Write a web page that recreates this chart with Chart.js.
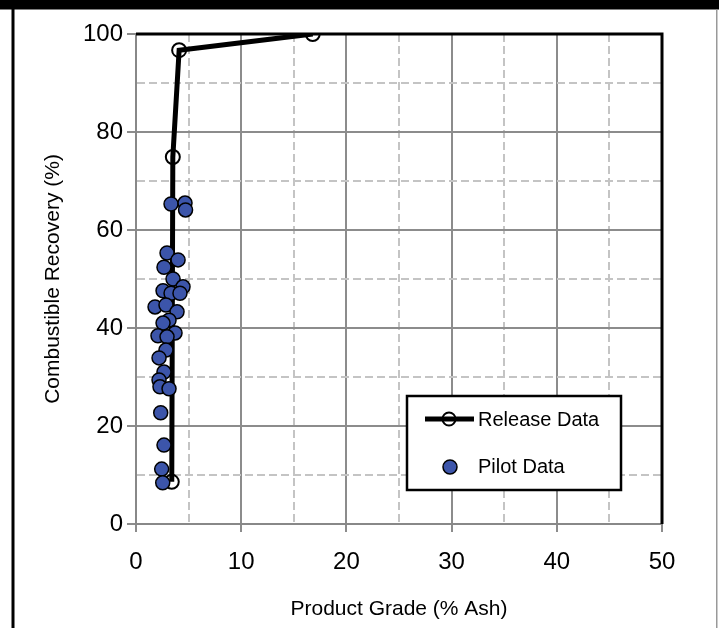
<!DOCTYPE html>
<html>
<head>
<meta charset="utf-8">
<script src="https://cdn.jsdelivr.net/npm/chart.js@4"></script>
<style>
  html, body { margin: 0; padding: 0; background: #fff; }
  #wrap { position: relative; width: 719px; height: 628px; }
</style>
</head>
<body>
<div id="wrap"><canvas id="myChart" width="719" height="628"></canvas></div>
<script>
// Release Data (line with open circles)
var releaseAsh = [3.4, 3.5, 4.1, 16.8];
var releaseRecovery = [8.6, 74.9, 96.7, 100];

// Pilot Data (blue dots)
var pilotAsh = [3.33, 4.66, 4.71, 2.95, 4.0, 2.66, 3.52, 4.47, 2.57, 3.33,
  4.18, 1.81, 2.85, 3.9, 3.14, 2.57, 3.71, 2.09, 2.95, 2.85,
  2.19, 2.66, 2.19, 2.28, 3.14, 2.35, 2.66, 2.44, 2.54];
var pilotRecovery = [65.3, 65.5, 64.1, 55.3, 53.9, 52.4, 50.0, 48.4, 47.6, 47.1,
  47.1, 44.3, 44.7, 43.3, 41.6, 41.0, 39.0, 38.4, 38.2, 35.5,
  33.9, 31.0, 29.4, 28.0, 27.6, 22.7, 16.1, 11.2, 8.4];

var xTicks = { min: 0, max: 50, major: 10, minor: 5 };
var yTicks = { min: 0, max: 100, major: 20, minor: 10 };

function toPoints(xs, ys) {
  return xs.map(function (x, i) { return { x: x, y: ys[i] }; });
}

var isMajor = function (v, step) { return Math.abs(v % step) < 1e-6; };

// page frame, plot frame and the legend box
var framePlugin = {
  id: 'frame',
  beforeDraw: function (chart) {
    var c = chart.ctx;
    c.save();
    c.fillStyle = '#fff';
    c.fillRect(0, 0, chart.width, chart.height);
    c.fillStyle = '#000';
    c.fillRect(0, 0, chart.width, 9.5);
    c.fillRect(11.5, 0, 3, chart.height);
    c.fillStyle = '#999';
    c.fillRect(716, 9.5, 1.5, chart.height);
    c.restore();
  },
  beforeDatasetsDraw: function (chart) {
    var a = chart.chartArea, c = chart.ctx;
    c.save();
    c.strokeStyle = '#000';
    c.lineWidth = 3;
    c.beginPath();
    c.moveTo(a.left, a.top);
    c.lineTo(a.right, a.top);
    c.lineTo(a.right, a.bottom);
    c.stroke();
    c.restore();
  },
  afterDatasetsDraw: function (chart) {
    var a = chart.chartArea, c = chart.ctx;
    var bx = a.left + 271, by = a.top + 362, bw = 214, bh = 94;
    c.save();
    c.fillStyle = '#fff';
    c.fillRect(bx, by, bw, bh);
    c.strokeStyle = '#000';
    c.lineWidth = 2.5;
    c.strokeRect(bx, by, bw, bh);
    // release entry
    var ly = by + 23;
    c.lineWidth = 5;
    c.beginPath();
    c.moveTo(bx + 18, ly);
    c.lineTo(bx + 67, ly);
    c.stroke();
    c.lineWidth = 2;
    c.fillStyle = '#fff';
    c.beginPath();
    c.arc(bx + 42, ly, 6.5, 0, Math.PI * 2);
    c.stroke();
    // pilot entry
    var py = by + 71;
    c.fillStyle = '#3c55aa';
    c.lineWidth = 1.5;
    c.beginPath();
    c.arc(bx + 43, py, 7, 0, Math.PI * 2);
    c.fill();
    c.stroke();
    c.fillStyle = '#000';
    c.font = '20px "Liberation Sans", Arial, sans-serif';
    c.textBaseline = 'middle';
    c.fillText('Release Data', bx + 71, ly + 1);
    c.fillText('Pilot Data', bx + 71, py);
    c.restore();
  }
};

var ctx = document.getElementById('myChart').getContext('2d');
var chart = new Chart(ctx, {
  type: 'scatter',
  data: {
    datasets: [
      {
        label: 'Release Data',
        data: toPoints(releaseAsh, releaseRecovery),
        showLine: true,
        borderColor: '#000',
        borderWidth: 5,
        pointBackgroundColor: 'rgba(0,0,0,0)',
        pointBorderColor: '#000',
        pointBorderWidth: 2,
        pointRadius: 7,
        order: 2
      },
      {
        label: 'Pilot Data',
        data: toPoints(pilotAsh, pilotRecovery),
        showLine: false,
        backgroundColor: '#3c55aa',
        borderColor: '#000',
        borderWidth: 1.5,
        pointRadius: 7,
        order: 1
      }
    ]
  },
  options: {
    responsive: false,
    animation: false,
    devicePixelRatio: 1,
    layout: {
      padding: { left: 0, top: 34, right: 57, bottom: 0 }
    },
    plugins: {
      legend: { display: false },
      tooltip: { enabled: false }
    },
    scales: {
      x: {
        type: 'linear',
        min: xTicks.min,
        max: xTicks.max,
        afterFit: function (s) { s.height = 104; },
        border: {
          color: '#888',
          width: 2,
          dash: function (c) {
            return c.tick && !isMajor(c.tick.value, xTicks.major) ? [8, 4] : [];
          }
        },
        grid: {
          color: function (c) {
            return c.tick && isMajor(c.tick.value, xTicks.major) ? '#8c8c8c' : '#c4c4c4';
          },
          lineWidth: 2,
          tickLength: 8,
          tickColor: function (c) {
            return c.tick && isMajor(c.tick.value, xTicks.major) ? '#8c8c8c' : 'rgba(0,0,0,0)';
          }
        },
        ticks: {
          stepSize: xTicks.minor,
          autoSkip: false,
          maxRotation: 0,
          color: '#000',
          padding: 16,
          font: { family: '"Liberation Sans", Arial, sans-serif', size: 24 },
          callback: function (v) { return isMajor(v, xTicks.major) ? v : ''; }
        },
        title: {
          display: true,
          text: 'Product Grade (% Ash)',
          color: '#000',
          font: { family: '"Liberation Sans", Arial, sans-serif', size: 21 },
          padding: { top: 0, bottom: 6 }
        }
      },
      y: {
        type: 'linear',
        min: yTicks.min,
        max: yTicks.max,
        afterFit: function (s) { s.width = 136; },
        border: {
          color: '#888',
          width: 2,
          dash: function (c) {
            return c.tick && !isMajor(c.tick.value, yTicks.major) ? [8, 4] : [];
          }
        },
        grid: {
          color: function (c) {
            return c.tick && isMajor(c.tick.value, yTicks.major) ? '#8c8c8c' : '#c4c4c4';
          },
          lineWidth: 2,
          tickLength: 9,
          tickColor: function (c) {
            return c.tick && isMajor(c.tick.value, yTicks.major) ? '#8c8c8c' : 'rgba(0,0,0,0)';
          }
        },
        ticks: {
          stepSize: yTicks.minor,
          autoSkip: false,
          color: '#000',
          padding: 4,
          font: { family: '"Liberation Sans", Arial, sans-serif', size: 24 },
          callback: function (v) { return isMajor(v, yTicks.major) ? v : ''; }
        },
        title: {
          display: true,
          text: 'Combustible Recovery (%)',
          color: '#000',
          font: { family: '"Liberation Sans", Arial, sans-serif', size: 21 },
          padding: { top: 41, bottom: 0 }
        }
      }
    }
  },
  plugins: [framePlugin]
});
</script>
</body>
</html>
